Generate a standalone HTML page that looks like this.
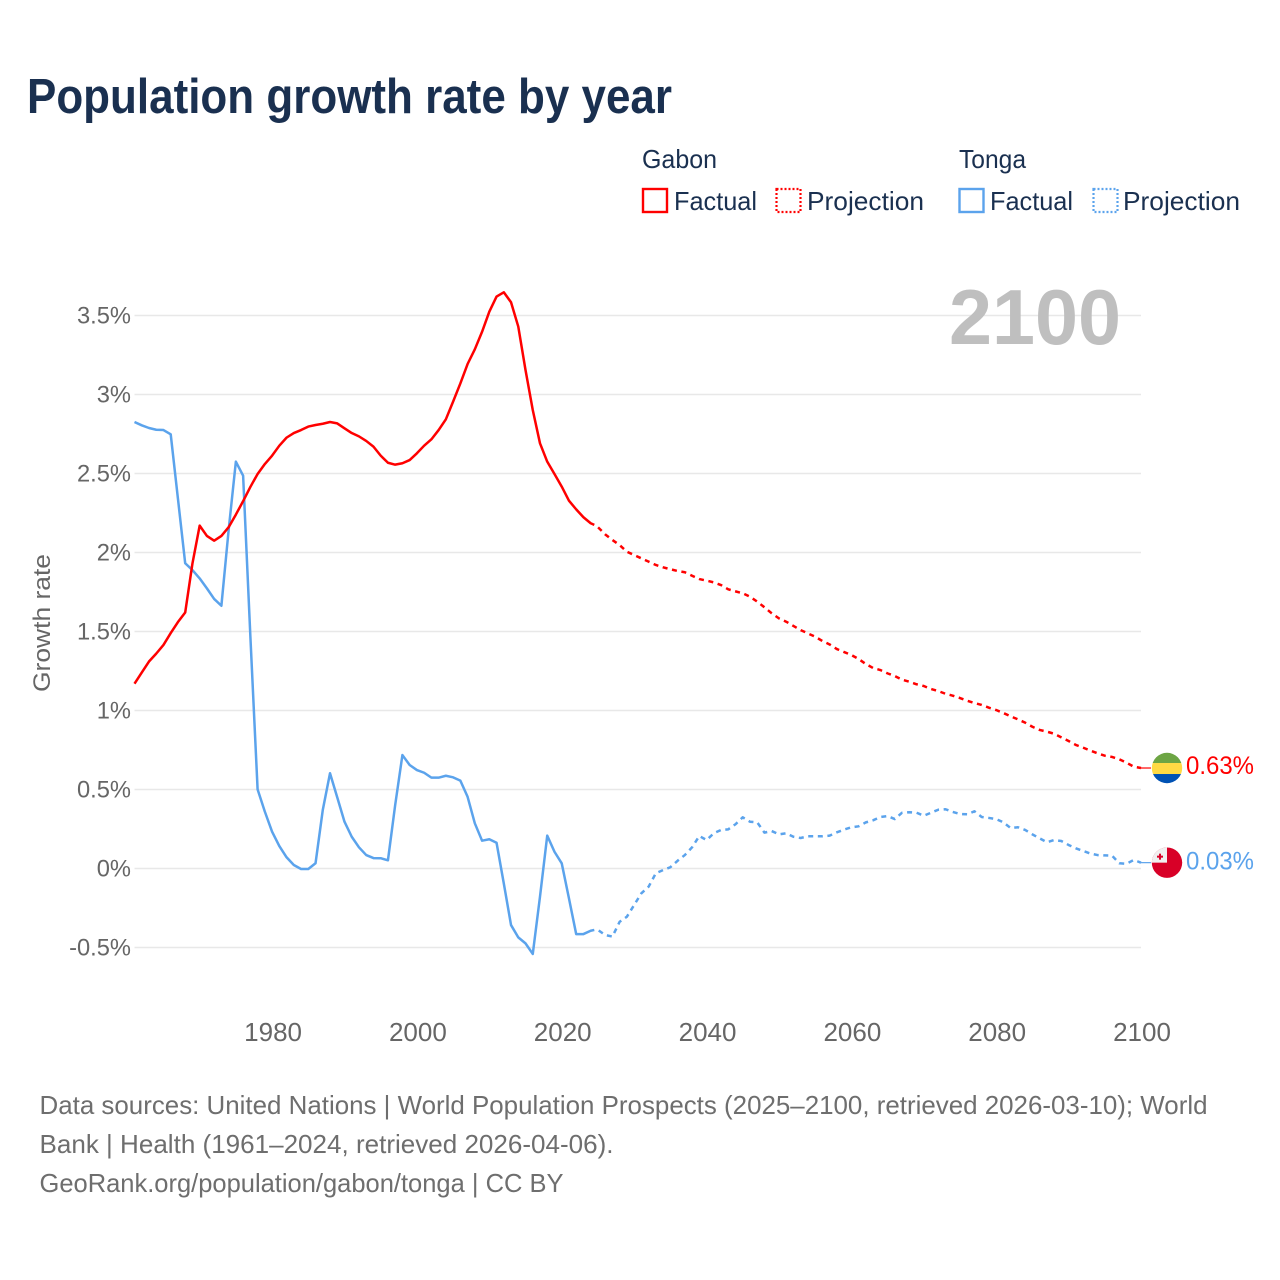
<!DOCTYPE html>
<html lang="en">
<head>
<meta charset="utf-8">
<title>Population growth rate by year</title>
<style>
  html, body { margin: 0; padding: 0; background: #ffffff; }
  svg { display: block; font-family: "Liberation Sans", sans-serif; }
  .tick { fill: #666666; font-size: 23.7px; }
  .xtick { fill: #666666; font-size: 26px; text-anchor: middle; }
  .legend { fill: #1a3050; font-size: 26px; }
  .foot { fill: #6e6e6e; font-size: 26px; }
</style>
</head>
<body>
<svg id="chart" xmlns="http://www.w3.org/2000/svg" width="1280" height="1280" viewBox="0 0 1280 1280">
  <rect x="0" y="0" width="1280" height="1280" fill="#ffffff"/>
  <text x="27" y="113" font-size="49" font-weight="700" fill="#1a3050" textLength="645" lengthAdjust="spacingAndGlyphs">Population growth rate by year</text>

  <g>
    <text class="legend" x="642" y="168" textLength="75" lengthAdjust="spacingAndGlyphs">Gabon</text>
    <rect x="643" y="189" width="24" height="23" fill="none" stroke="#ff0000" stroke-width="2.4"/>
    <text class="legend" x="674" y="210" textLength="83" lengthAdjust="spacingAndGlyphs">Factual</text>
    <rect x="776.5" y="189" width="24" height="23" fill="none" stroke="#ff0000" stroke-width="2.2" stroke-dasharray="2 2"/>
    <text class="legend" x="807" y="210" textLength="117" lengthAdjust="spacingAndGlyphs">Projection</text>
    <text class="legend" x="959" y="168" textLength="67" lengthAdjust="spacingAndGlyphs">Tonga</text>
    <rect x="959.5" y="189" width="24" height="23" fill="none" stroke="#5ba3ec" stroke-width="2.4"/>
    <text class="legend" x="990" y="210" textLength="83" lengthAdjust="spacingAndGlyphs">Factual</text>
    <rect x="1093.5" y="189" width="24" height="23" fill="none" stroke="#5ba3ec" stroke-width="2.2" stroke-dasharray="2 2"/>
    <text class="legend" x="1123" y="210" textLength="117" lengthAdjust="spacingAndGlyphs">Projection</text>
  </g>

  <g id="grid"></g>
  <g id="yticks"></g>
  <g id="xticks"></g>

  <text transform="translate(50,692) rotate(-90)" fill="#666666" font-size="24" textLength="138" lengthAdjust="spacingAndGlyphs">Growth rate</text>

  <text x="949" y="344" font-size="78" font-weight="700" fill="#bfbfbf" textLength="172" lengthAdjust="spacingAndGlyphs">2100</text>

  <g id="series"></g>

  <g id="flag-gabon">
    <clipPath id="clip-gabon"><circle cx="0" cy="0" r="15.2"/></clipPath>
    <g clip-path="url(#clip-gabon)">
      <rect x="-16" y="-16" width="32" height="11" fill="#6da544"/>
      <rect x="-16" y="-5" width="32" height="11" fill="#ffda44"/>
      <rect x="-16" y="6" width="32" height="11" fill="#0052b4"/>
    </g>
  </g>
  <g id="flag-tonga">
    <clipPath id="clip-tonga"><circle cx="0" cy="0" r="15.2"/></clipPath>
    <g clip-path="url(#clip-tonga)">
      <rect x="-16" y="-16" width="32" height="32" fill="#d80027"/>
      <rect x="-16" y="-16" width="16" height="16" fill="#f0f0f0"/>
      <rect x="-10" y="-7" width="6" height="2" fill="#d80027"/>
      <rect x="-8" y="-9" width="2" height="6" fill="#d80027"/>
    </g>
  </g>
  <text id="label-gabon" x="1186" y="774" font-size="25" fill="#ff0000" textLength="68" lengthAdjust="spacingAndGlyphs"></text>
  <text id="label-tonga" x="1186" y="870" font-size="25" fill="#5ba3ec" textLength="68" lengthAdjust="spacingAndGlyphs"></text>

  <g>
    <text class="foot" x="39.5" y="1114" textLength="1168" lengthAdjust="spacingAndGlyphs">Data sources: United Nations | World Population Prospects (2025–2100, retrieved 2026-03-10); World</text>
    <text class="foot" x="39.5" y="1153" textLength="574" lengthAdjust="spacingAndGlyphs">Bank | Health (1961–2024, retrieved 2026-04-06).</text>
    <text class="foot" x="39.5" y="1192" textLength="524" lengthAdjust="spacingAndGlyphs">GeoRank.org/population/gabon/tonga | CC BY</text>
  </g>
</svg>

<script>
const xTickYears = [1980, 2000, 2020, 2040, 2060, 2080, 2100];
const yTickValues = [-0.5, 0, 0.5, 1, 1.5, 2, 2.5, 3, 3.5];
const yTickLabels = ["-0.5%", "0%", "0.5%", "1%", "1.5%", "2%", "2.5%", "3%", "3.5%"];

const factualYears = [1961,1962,1963,1964,1965,1966,1967,1968,1969,1970,1971,1972,1973,1974,1975,1976,1977,1978,1979,1980,1981,1982,1983,1984,1985,1986,1987,1988,1989,1990,1991,1992,1993,1994,1995,1996,1997,1998,1999,2000,2001,2002,2003,2004,2005,2006,2007,2008,2009,2010,2011,2012,2013,2014,2015,2016,2017,2018,2019,2020,2021,2022,2023,2024,2024.5];
const projectionYears = [2024.5,2025,2026,2027,2028,2029,2030,2031,2032,2033,2034,2035,2036,2037,2038,2039,2040,2041,2042,2043,2044,2045,2046,2047,2048,2049,2050,2051,2052,2053,2054,2055,2056,2057,2058,2059,2060,2061,2062,2063,2064,2065,2066,2067,2068,2069,2070,2071,2072,2073,2074,2075,2076,2077,2078,2079,2080,2081,2082,2083,2084,2085,2086,2087,2088,2089,2090,2091,2092,2093,2094,2095,2096,2097,2098,2099,2100];

const gabonFactual = [1.17,1.24,1.31,1.36,1.415,1.49,1.56,1.62,1.93,2.17,2.105,2.075,2.105,2.16,2.24,2.325,2.415,2.497,2.56,2.613,2.676,2.727,2.756,2.775,2.797,2.807,2.815,2.826,2.817,2.786,2.756,2.735,2.706,2.67,2.613,2.568,2.556,2.565,2.585,2.628,2.676,2.716,2.775,2.843,2.955,3.07,3.193,3.286,3.397,3.524,3.62,3.647,3.584,3.43,3.155,2.902,2.691,2.575,2.497,2.417,2.328,2.273,2.223,2.185,2.175];
const gabonProjection = [2.175,2.16,2.115,2.079,2.047,2.005,1.984,1.963,1.942,1.921,1.906,1.894,1.883,1.875,1.853,1.832,1.822,1.811,1.794,1.767,1.754,1.742,1.72,1.689,1.653,1.615,1.583,1.562,1.535,1.509,1.488,1.467,1.44,1.418,1.389,1.37,1.351,1.326,1.294,1.269,1.256,1.235,1.218,1.195,1.182,1.166,1.155,1.136,1.123,1.106,1.094,1.079,1.062,1.047,1.035,1.018,1.003,0.984,0.963,0.944,0.923,0.897,0.877,0.866,0.853,0.83,0.807,0.782,0.765,0.746,0.729,0.714,0.706,0.691,0.67,0.644,0.636];
const tongaFactual = [2.826,2.805,2.788,2.777,2.775,2.748,2.34,1.932,1.889,1.836,1.773,1.706,1.663,2.142,2.575,2.486,1.47,0.501,0.36,0.233,0.142,0.071,0.022,-0.003,-0.003,0.033,0.37,0.603,0.45,0.296,0.201,0.134,0.085,0.066,0.065,0.052,0.402,0.718,0.655,0.623,0.606,0.575,0.575,0.587,0.577,0.556,0.454,0.286,0.176,0.185,0.163,-0.094,-0.358,-0.436,-0.474,-0.541,-0.178,0.208,0.106,0.033,-0.189,-0.415,-0.415,-0.394,-0.389];
const tongaProjection = [-0.389,-0.389,-0.421,-0.431,-0.337,-0.305,-0.231,-0.157,-0.115,-0.03,-0.01,0.008,0.049,0.085,0.134,0.206,0.18,0.223,0.244,0.248,0.28,0.324,0.296,0.292,0.227,0.237,0.216,0.223,0.201,0.193,0.204,0.204,0.204,0.208,0.229,0.246,0.261,0.267,0.292,0.305,0.326,0.332,0.313,0.353,0.356,0.353,0.334,0.353,0.372,0.375,0.358,0.345,0.343,0.362,0.326,0.32,0.313,0.292,0.256,0.261,0.244,0.216,0.191,0.166,0.18,0.174,0.149,0.128,0.111,0.095,0.085,0.083,0.081,0.033,0.03,0.054,0.037];

const endLabelGabon = "0.63%";
const endLabelTonga = "0.03%";

const NS = "http://www.w3.org/2000/svg";
const xScale = function (year) { return 134.5 + (year - 1961) * (1141 - 134.5) / 139; };
const yScale = function (value) { return 868.5 - value * 158; };

const gridGroup = document.getElementById("grid");
const yTickGroup = document.getElementById("yticks");
yTickValues.forEach(function (value, i) {
  const line = document.createElementNS(NS, "line");
  
  
  line.setAttribute("x1", xScale(1961));
  line.setAttribute("x2", xScale(2100));
  line.setAttribute("y1", yScale(value));
  line.setAttribute("y2", yScale(value));
  line.setAttribute("stroke", "#e8e8e8");
  line.setAttribute("stroke-width", "1.5");
  gridGroup.appendChild(line);

  const label = document.createElementNS(NS, "text");
  
  
  label.setAttribute("class", "tick");
  label.setAttribute("x", "131");
  label.setAttribute("y", yScale(value) + 8);
  label.setAttribute("text-anchor", "end");
  label.textContent = yTickLabels[i];
  yTickGroup.appendChild(label);
});

const xTickGroup = document.getElementById("xticks");
xTickYears.forEach(function (year) {
  const label = document.createElementNS(NS, "text");
  
  
  label.setAttribute("class", "xtick");
  label.setAttribute("x", xScale(year) + 1);
  label.setAttribute("y", "1041");
  label.textContent = String(year);
  xTickGroup.appendChild(label);
});

function pathFrom(years, values) {
  return values.map(function (v, i) {
    return (i === 0 ? "M" : "L") + xScale(years[i]).toFixed(2) + " " + yScale(v).toFixed(2);
  }).join(" ");
}

const seriesGroup = document.getElementById("series");
function drawLine(years, values, color, dashed, name) {
  const p = document.createElementNS(NS, "path");
  
  
  p.setAttribute("d", pathFrom(years, values));
  p.setAttribute("fill", "none");
  p.setAttribute("stroke", color);
  p.setAttribute("stroke-width", "2.5");
  p.setAttribute("stroke-linejoin", "round");
  if (dashed) {
    p.setAttribute("stroke-dasharray", "5 4.6");
    p.setAttribute("stroke-dashoffset", "5");
  }
  seriesGroup.appendChild(p);
}
drawLine(factualYears, tongaFactual, "#5ba3ec", false, "line-tonga-factual");
drawLine(projectionYears, tongaProjection, "#5ba3ec", true, "line-tonga-projection");
drawLine(factualYears, gabonFactual, "#ff0000", false, "line-gabon-factual");
drawLine(projectionYears, gabonProjection, "#ff0000", true, "line-gabon-projection");

function drawConnector(value, color, name) {
  const c = document.createElementNS(NS, "line");
  
  
  c.setAttribute("x1", xScale(2100));
  c.setAttribute("x2", xScale(2100) + 10);
  c.setAttribute("y1", yScale(value));
  c.setAttribute("y2", yScale(value));
  c.setAttribute("stroke", color);
  c.setAttribute("stroke-width", "1.2");
  seriesGroup.appendChild(c);
}
const gabonLast = gabonProjection[gabonProjection.length - 1];
const tongaLast = tongaProjection[tongaProjection.length - 1];
drawConnector(gabonLast, "#ff0000", "connector-gabon");
drawConnector(tongaLast, "#5ba3ec", "connector-tonga");

document.getElementById("flag-gabon").setAttribute("transform", "translate(1167," + yScale(gabonLast) + ")");
document.getElementById("flag-tonga").setAttribute("transform", "translate(1167," + yScale(tongaLast) + ")");
document.getElementById("label-gabon").setAttribute("y", yScale(gabonLast) + 6);
document.getElementById("label-tonga").setAttribute("y", yScale(tongaLast) + 7);
document.getElementById("label-gabon").textContent = endLabelGabon;
document.getElementById("label-tonga").textContent = endLabelTonga;
</script>
</body>
</html>
